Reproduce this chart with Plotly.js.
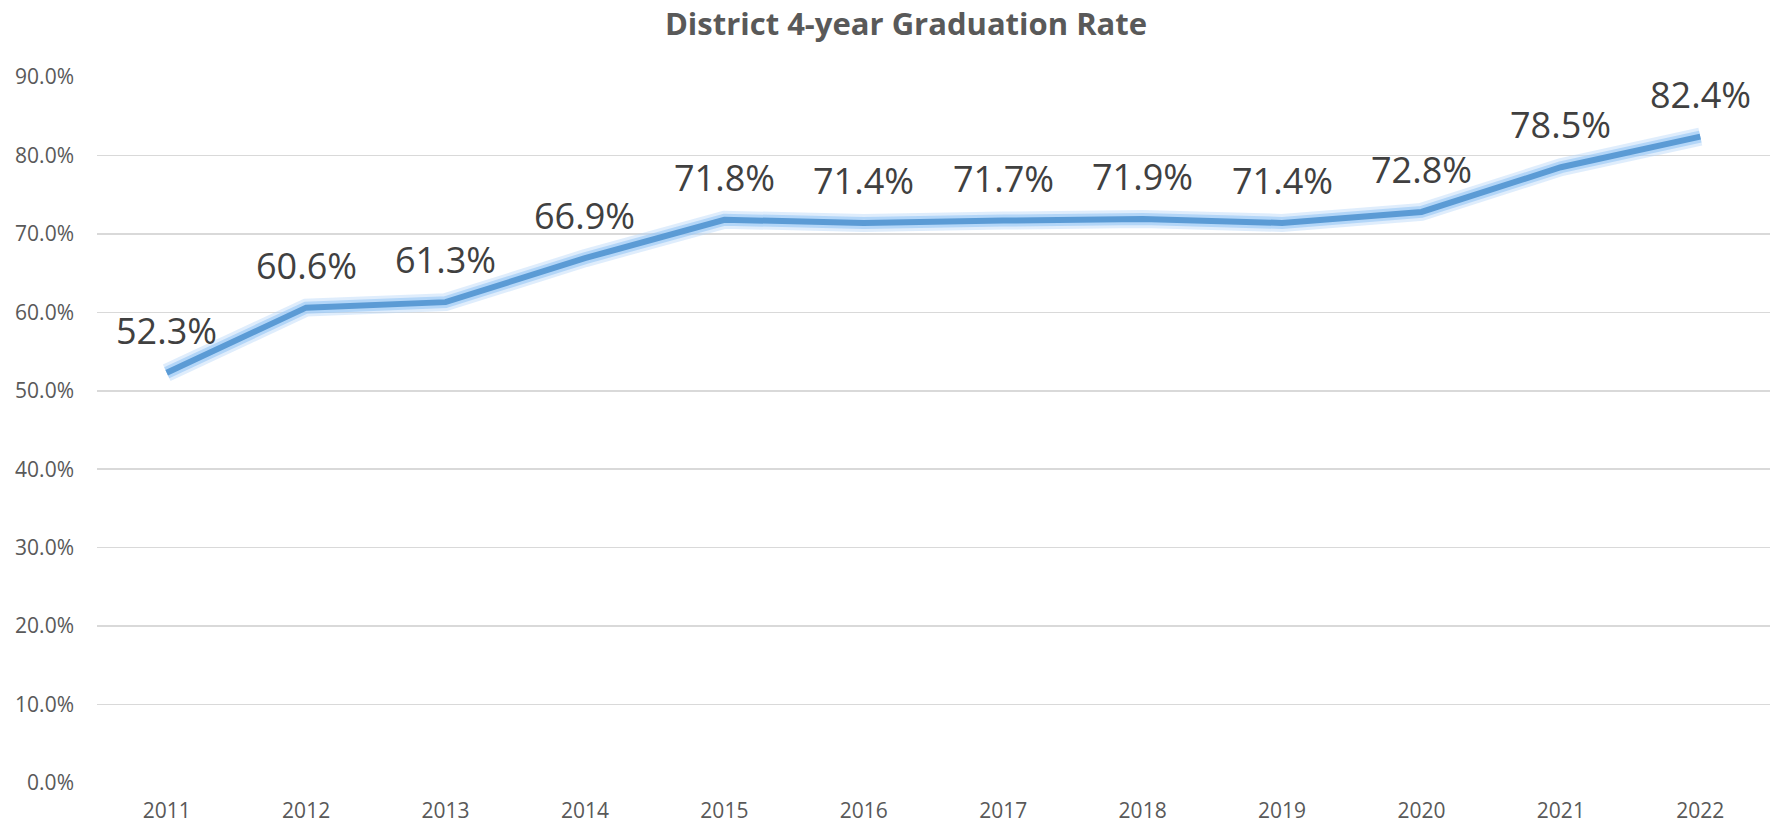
<!DOCTYPE html>
<html>
<head>
<meta charset="utf-8">
<script src="https://cdn.plot.ly/plotly-3.0.1.min.js"></script>
<style>html,body{margin:0;padding:0;background:#fff;}#chart{width:1773px;height:824px;}</style>
</head>
<body>
<div id="chart"></div>
<script>
const years = ["2011","2012","2013","2014","2015","2016","2017","2018","2019","2020","2021","2022"];
const rates = [0.523, 0.606, 0.613, 0.669, 0.718, 0.714, 0.717, 0.719, 0.714, 0.728, 0.785, 0.824];
const yTicks = [0, 0.1, 0.2, 0.3, 0.4, 0.5, 0.6, 0.7, 0.8, 0.9];
const yTickLabels = ["0.0%","10.0%","20.0%","30.0%","40.0%","50.0%","60.0%","70.0%","80.0%","90.0%"];
const chartTitle = "District 4-year Graduation Rate";

const labels = rates.map(v => (v * 100).toFixed(1) + "%");

const glowOuter = {
  x: years, y: rates, type: "scatter", mode: "lines",
  line: {color: "rgba(185,215,248,0.45)", width: 18},
  hoverinfo: "skip", showlegend: false
};
const glowInner = {
  x: years, y: rates, type: "scatter", mode: "lines",
  line: {color: "rgba(150,198,245,0.6)", width: 12},
  hoverinfo: "skip", showlegend: false
};
const mainLine = {
  x: years, y: rates, type: "scatter", mode: "lines",
  line: {color: "#5B9BD5", width: 6},
  showlegend: false
};

const annotations = years.map((yr, i) => ({
  x: i, y: rates[i], xref: "x", yref: "y", text: labels[i], showarrow: false,
  yanchor: "bottom", xanchor: "center", yshift: 16,
  font: {family: "Open Sans", size: 36, color: "#404040"}
}));

const layout = {
  width: 1773, height: 824,
  margin: {l: 97, r: 3, t: 77, b: 41},
  paper_bgcolor: "#ffffff", plot_bgcolor: "#ffffff",
  title: {
    text: "<b>" + chartTitle + "</b>",
    font: {family: "Open Sans", size: 31, color: "#595959"},
    x: 0.511, xanchor: "center", y: 0.971, yanchor: "middle"
  },
  xaxis: {
    type: "category", range: [-0.5, 11.5],
    showgrid: false, zeroline: false, showline: false,
    ticks: "", ticklabelstandoff: 13,
    tickfont: {family: "Open Sans", size: 21, color: "#595959"}
  },
  yaxis: {
    range: [0, 0.9], tickvals: yTicks, ticktext: yTickLabels,
    showgrid: true, gridcolor: "#D9D9D9", gridwidth: 1.5,
    zeroline: false, showline: false, ticks: "", ticklabelstandoff: 22,
    tickfont: {family: "Open Sans", size: 21, color: "#595959"}
  },
  annotations: annotations
};

Plotly.newPlot("chart", [glowOuter, glowInner, mainLine], layout, {displayModeBar: false, staticPlot: true});
</script>
</body>
</html>
